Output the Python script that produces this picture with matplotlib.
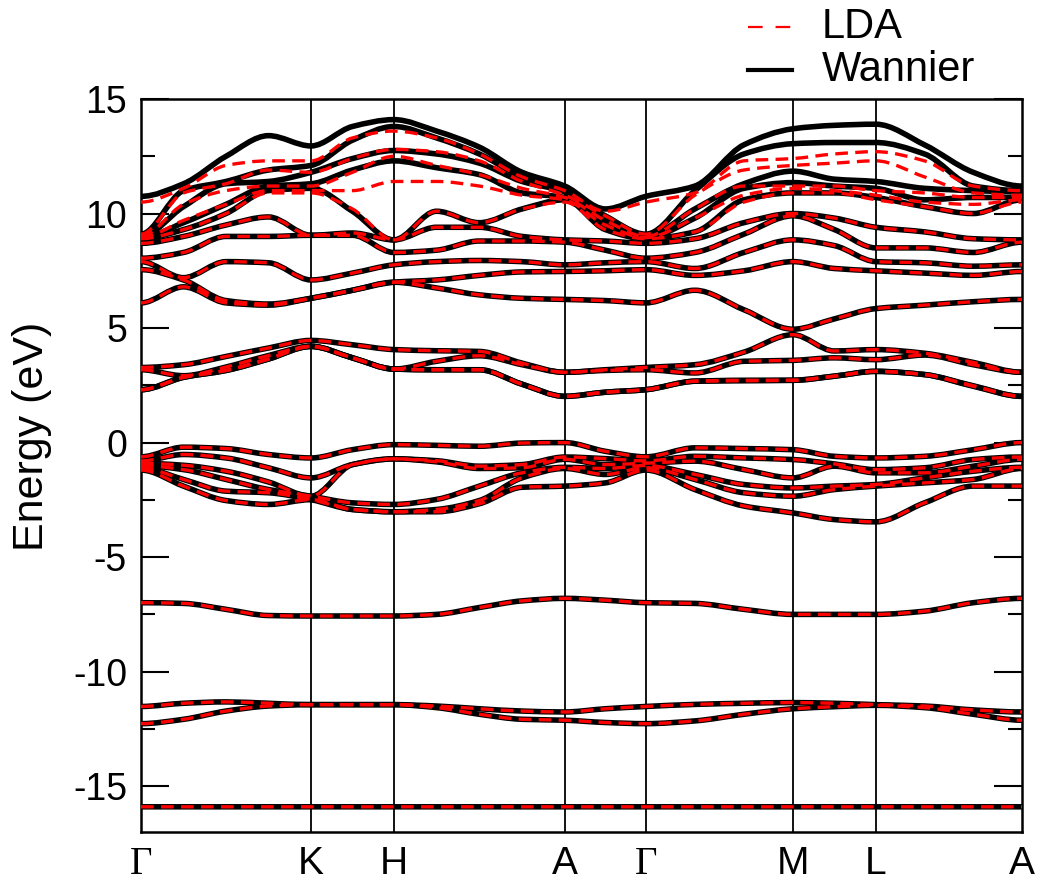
import numpy as np
import matplotlib
matplotlib.use("Agg")
import matplotlib.pyplot as plt
from matplotlib.path import Path
from matplotlib.patches import PathPatch
from matplotlib.lines import Line2D

plt.rcParams['axes.unicode_minus'] = False
plt.rcParams['font.family'] = ['Liberation Sans', 'DejaVu Sans']

# ---- k-path -------------------------------------------------------------
kpoint_labels = ["Γ", "K", "H", "A", "Γ", "M", "L", "A"]
kpoint_pos = [0.0, 0.193, 0.287, 0.481, 0.573, 0.740, 0.834, 1.0]
samples_per_segment = [4, 2, 4, 2, 3, 2, 3]

# ---- band energies (eV) at the sampled k-points -------------------------
core_band = [-15.9] * 21

semicore_upper = [-11.52, -11.38, -11.32, -11.38, -11.44, -11.44, -11.44, -11.50,
                  -11.62, -11.72, -11.76, -11.62, -11.52, -11.43, -11.38, -11.35,
                  -11.38, -11.44, -11.50, -11.67, -11.76]
semicore_lower = [-12.27, -12.08, -11.72, -11.50, -11.44, -11.44, -11.44, -11.57,
                  -11.86, -12.08, -12.12, -12.22, -12.27, -12.15, -11.86, -11.62,
                  -11.53, -11.47, -11.57, -11.86, -12.12]
s_band = [-6.99, -7.02, -7.28, -7.55, -7.57, -7.57, -7.57, -7.50, -7.20, -6.91,
          -6.80, -6.88, -6.99, -7.02, -7.28, -7.50, -7.50, -7.50, -7.36, -6.99, -6.80]

valence_bands = [
    [-0.62, -0.80, -0.90, -1.00, -1.10, -1.20],
    [-0.20, -0.52, -0.99, -1.18, -1.61, -1.90],
    [-0.26, -0.67, -1.25, -1.61, -2.12, -2.53],
    [-0.52, -1.10, -1.72, -2.05, -2.19, -2.70],
    [-0.67, -1.54, -2.34, -2.34, -2.49, -2.49],
    [-0.31, -0.96, -0.96, -2.63, -2.92, -2.92],
    [-0.09, -0.71, -0.71, -2.70, -3.02, -3.02],
    [-0.12, -0.79, -0.84, -2.48, -2.92, -3.02],
    [-0.16, -1.03, -1.13, -1.90, -2.53, -2.67],
    [-0.02, -0.96, -1.10, -1.32, -1.54, -1.95],
    [0.00, -0.63, -0.73, -1.08, -1.13, -1.90],
    [-0.38, -0.70, -0.96, -1.13, -1.39, -1.76],
    [-0.62, -0.80, -0.90, -1.00, -1.10, -1.20],
    [-0.23, -0.60, -0.81, -1.39, -1.61, -2.05],
    [-0.26, -0.67, -1.18, -1.83, -2.19, -2.77],
    [-0.31, -0.74, -1.54, -1.98, -2.34, -3.07],
    [-0.60, -0.93, -1.03, -1.90, -2.05, -3.36],
    [-0.67, -1.18, -1.32, -1.83, -1.90, -3.46],
    [-0.60, -1.10, -1.32, -1.54, -1.76, -2.63],
    [-0.31, -0.74, -1.03, -1.25, -1.61, -1.90],
    [0.00, -0.63, -0.73, -1.08, -1.13, -1.90],
]

conduction_bands = [
    [3.28, 3.18, 2.31, 2.31],
    [3.40, 2.92, 2.85, 2.85],
    [3.76, 3.30, 3.15, 3.15],
    [4.13, 3.80, 3.65, 3.65],
    [4.46, 4.20, 4.20, 4.20],
    [4.27, 3.70, 3.70, 3.70],
    [4.06, 3.21, 3.21, 3.21],
    [4.01, 3.55, 3.18, 3.18],
    [3.98, 3.79, 3.18, 3.18],
    [3.47, 3.40, 2.55, 2.55],
    [3.07, 3.07, 2.02, 2.02],
    [3.18, 3.15, 2.20, 2.20],
    [3.28, 3.18, 2.31, 2.31],
    [3.40, 3.04, 2.68, 2.68],
    [3.95, 3.55, 2.72, 2.70],
    [4.71, 3.59, 2.72, 2.72],
    [4.00, 3.70, 2.90, 2.90],
    [4.06, 3.62, 3.11, 3.11],
    [3.90, 3.82, 2.97, 2.97],
    [3.50, 3.40, 2.48, 2.46],
    [3.07, 3.07, 2.02, 2.02],
]

# upper manifold, Wannier-interpolated (ten bands, highest first)
upper_bands_wannier = [
    [10.75, 9.10, 9.00, 8.95, 8.90, 8.70, 8.05, 7.90, 7.55, 6.10],
    [11.30, 11.00, 10.30, 9.60, 9.30, 9.00, 8.30, 7.20, 7.10, 6.80],
    [12.50, 11.40, 11.30, 10.40, 10.00, 9.50, 9.00, 7.90, 6.20, 6.10],
    [13.40, 11.90, 11.40, 11.20, 11.00, 9.85, 9.00, 7.85, 6.05, 6.00],
    [12.95, 12.10, 11.80, 11.30, 11.10, 9.05, 9.05, 7.10, 6.30, 6.30],
    [13.80, 13.20, 12.40, 11.90, 10.10, 9.15, 9.05, 7.40, 6.65, 6.65],
    [14.10, 13.80, 12.75, 12.30, 8.85, 8.85, 8.30, 7.76, 7.00, 7.00],
    [13.60, 13.30, 12.60, 12.00, 10.10, 9.40, 8.40, 7.90, 7.10, 6.75],
    [12.90, 12.60, 12.20, 11.70, 9.60, 9.40, 8.80, 7.95, 7.30, 6.45],
    [11.80, 11.60, 11.40, 10.90, 10.20, 9.00, 8.80, 7.90, 7.45, 6.30],
    [11.20, 11.00, 10.95, 10.70, 10.60, 8.85, 8.75, 7.76, 7.47, 6.25],
    [10.20, 9.90, 9.70, 9.50, 9.30, 8.80, 8.40, 7.85, 7.50, 6.20],
    [10.75, 9.10, 9.00, 8.95, 8.90, 8.70, 8.05, 7.90, 7.55, 6.10],
    [11.20, 11.00, 10.20, 9.80, 9.20, 8.90, 8.30, 7.60, 7.30, 6.65],
    [13.00, 12.60, 11.30, 11.10, 10.60, 9.60, 9.10, 8.30, 7.50, 5.80],
    [13.70, 13.05, 11.85, 11.35, 10.90, 10.00, 9.90, 8.85, 7.90, 4.95],
    [13.85, 13.10, 11.50, 11.20, 10.90, 9.80, 9.30, 8.60, 7.60, 5.40],
    [13.90, 13.10, 11.40, 11.10, 10.70, 9.40, 8.50, 7.90, 7.50, 5.85],
    [13.00, 12.60, 11.10, 10.60, 10.30, 9.20, 8.50, 7.85, 7.40, 6.00],
    [11.80, 11.20, 11.00, 10.70, 10.00, 8.90, 8.30, 7.70, 7.30, 6.15],
    [11.20, 11.00, 10.95, 10.70, 10.60, 8.85, 8.75, 7.76, 7.47, 6.25],
]

# LDA values of the five highest bands (the lower five coincide with Wannier)
upper_bands_lda_top = [
    [10.50, 9.10, 9.00, 8.95, 8.90],
    [11.10, 10.90, 10.40, 9.70, 9.30],
    [12.10, 11.30, 11.00, 10.40, 10.00],
    [12.30, 11.90, 11.20, 11.00, 10.90],
    [12.30, 11.80, 11.20, 11.00, 10.90],
    [13.30, 12.40, 11.80, 11.00, 10.20],
    [13.60, 12.80, 12.50, 11.40, 8.85],
    [13.30, 12.70, 12.10, 11.40, 10.10],
    [12.60, 12.30, 11.70, 11.20, 9.60],
    [11.60, 11.40, 11.10, 10.80, 10.20],
    [11.00, 10.80, 10.70, 10.60, 10.50],
    [10.10, 9.90, 9.70, 9.50, 9.30],
    [10.50, 9.10, 9.00, 8.95, 8.90],
    [10.90, 10.80, 10.20, 9.80, 9.20],
    [12.30, 11.90, 11.20, 10.80, 10.50],
    [12.40, 12.10, 11.20, 11.10, 10.90],
    [12.60, 12.20, 11.20, 11.00, 10.90],
    [12.70, 12.30, 11.00, 10.80, 10.60],
    [12.30, 11.60, 10.90, 10.50, 10.30],
    [11.20, 10.90, 10.70, 10.40, 10.00],
    [11.00, 10.80, 10.70, 10.60, 10.50],
]


def sample_k():
    ks = [kpoint_pos[0]]
    for a, b, n in zip(kpoint_pos[:-1], kpoint_pos[1:], samples_per_segment):
        ks.extend(np.linspace(a, b, n + 1)[1:])
    return np.array(ks)


def band_path(k, e):
    """Smooth cubic Bezier path through the sampled energies (no overshoot)."""
    e = np.asarray(e, float)
    dk = np.diff(k)
    s = np.diff(e) / dk
    m = np.zeros_like(e)
    for i in range(1, len(e) - 1):
        if s[i - 1] * s[i] > 0:
            m[i] = 2.0 / (1.0 / s[i - 1] + 1.0 / s[i])
    verts = [(k[0], e[0])]
    codes = [Path.MOVETO]
    for i in range(len(e) - 1):
        h = dk[i] / 3.0
        verts += [(k[i] + h, e[i] + m[i] * h),
                  (k[i + 1] - h, e[i + 1] - m[i + 1] * h),
                  (k[i + 1], e[i + 1])]
        codes += [Path.CURVE4] * 3
    return Path(verts, codes)


def columns(rows):
    arr = np.asarray(rows, float)
    return [arr[:, j] for j in range(arr.shape[1])]


k = sample_k()
shared = ([core_band, semicore_upper, semicore_lower, s_band]
          + columns(valence_bands) + columns(conduction_bands))
upper_w = columns(upper_bands_wannier)
wannier = shared + upper_w
lda = shared + columns(upper_bands_lda_top) + upper_w[5:]

fig = plt.figure(figsize=(10.44, 8.84), dpi=100)
ax = fig.add_axes([141 / 1044, 52 / 884, 881 / 1044, 733 / 884])

for band in wannier:
    ax.add_patch(PathPatch(band_path(k, band), fill=False, edgecolor='black',
                           lw=4.0, joinstyle='round', capstyle='round', zorder=3))
for band in lda:
    ax.add_patch(PathPatch(band_path(k, band), fill=False, edgecolor='#ff0000',
                           lw=2.4, linestyle=(0, (3.8, 2.2)), zorder=4))

for xp in kpoint_pos[1:-1]:
    ax.axvline(xp, color='black', lw=1.3, zorder=2)

ax.set_xlim(kpoint_pos[0], kpoint_pos[-1])
ax.set_ylim(-17, 15)
ax.set_xticks(kpoint_pos)
ax.set_xticklabels(kpoint_labels, fontsize=28)
for lab in ax.get_xticklabels():
    if lab.get_text() == "Γ":
        lab.set_family(['Liberation Serif', 'DejaVu Serif'])
ax.tick_params(axis='x', length=0, pad=10)
ax.set_yticks(np.arange(-15, 16, 5))
ax.set_yticks(np.arange(-15, 16, 2.5), minor=True)
ax.tick_params(axis='y', which='major', direction='in', length=20, width=1.5,
               right=True, labelsize=27, pad=10)
ax.tick_params(axis='y', which='minor', direction='in', length=10, width=1.5,
               right=True)
for sp in ax.spines.values():
    sp.set_linewidth(1.8)
ax.set_ylabel("Energy (eV)", fontsize=31)
ax.yaxis.set_label_coords(-0.101, 0.54)

# legend drawn in figure pixels
fig.add_artist(Line2D([748 / 1044, 792 / 1044], [1 - 27 / 884, 1 - 27 / 884],
                      color='#ff0000', lw=1.6, linestyle=(0, (6.6, 5.8)),
                      transform=fig.transFigure))
fig.add_artist(Line2D([748 / 1044, 792 / 1044], [1 - 70 / 884, 1 - 70 / 884],
                      color='black', lw=3.0, transform=fig.transFigure))
fig.text(822 / 1044, 1 - 27 / 884, "LDA", fontsize=30, va='center', ha='left')
fig.text(822 / 1044, 1 - 70 / 884, "Wannier", fontsize=30, va='center', ha='left')

fig.savefig("out.png", dpi=100)
